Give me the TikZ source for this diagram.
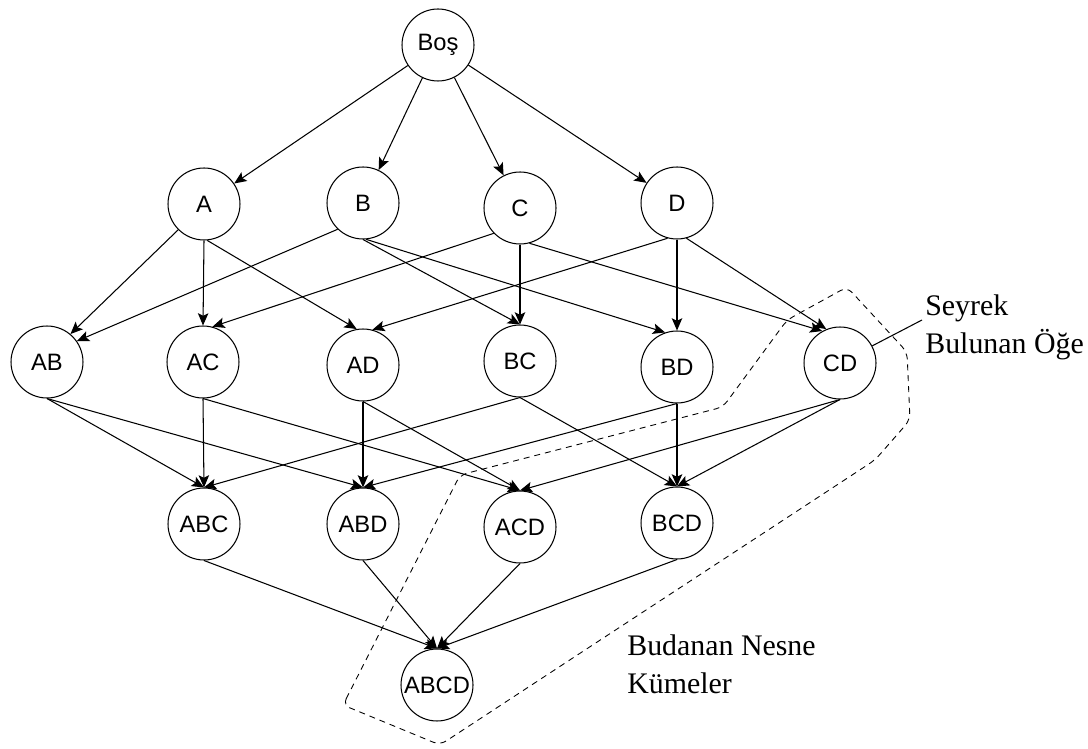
\documentclass[tikz,border=0pt]{standalone}
\usepackage{fontspec}
\setmainfont{Liberation Serif}
\setsansfont{Liberation Sans}
\usetikzlibrary{arrows.meta}

\begin{document}
\begin{tikzpicture}[x=0.02cm,y=-0.02cm,
  itemset/.style={circle, draw, line width=0.6pt, minimum size=1.44cm, inner sep=0pt,
    font=\sffamily\fontsize{13.5}{15}\selectfont},
  link/.style={-{Stealth[length=7pt,width=6pt,inset=1.5pt]}, line width=0.6pt},
  note/.style={anchor=north west, inner sep=0pt, align=left,
    font=\fontsize{17}{22}\selectfont}]
\useasboundingbox (0,0) rectangle (1088,749);

% pruned region
\draw[dashed, dash pattern=on 3.4pt off 2.8pt, line width=0.5pt, rounded corners=4pt]
  (343,705) -- (460,475) -- (723,407) -- (787,320) -- (847,287)
  -- (907,352) -- (910,420) -- (875,460) -- (440,745) -- cycle;

% lattice
\node[itemset] (Bos) at (438,45) {Boş};
\foreach \n/\x/\y in {A/204/204,B/363/203,C/520/208,D/677/203,
    AB/47/362,AC/203/362,AD/363/365,BC/520/361,BD/677/367,CD/840/363,
    ABC/204/524,ABD/363/524,ACD/520/527,BCD/677/523,ABCD/437/685}{
  \node[itemset] (\n) at (\x,\y) {\n};
}

\foreach \t in {A,B,C,D}{
  \draw[link] (Bos) -- (\t);
}
\foreach \s/\t in {A.225/AB.50, A.south/AC.north, A.275/AD.100,
    B.226/AB.35, B.south/BC.north, B.275/BD.109,
    C.224/AC.75, C.south/BC.north, C.285/CD.119,
    D.255/AD.75, D.south/BD.north, D.285/CD.112}{
  \draw[link] (\s) -- (\t);
}
\foreach \s/\t in {AB/ABC, AB/ABD, AC/ABC, AC/ACD, AD/ABD, AD/ACD,
    BC/ABC, BC/BCD, BD/ABD, BD/BCD, CD/ACD, CD/BCD,
    ABC/ABCD, ABD/ABCD, ACD/ABCD, BCD/ABCD}{
  \draw[link] (\s.south) -- (\t.north);
}

% labels
\coordinate (tip) at (922,320);
\draw[line width=0.6pt] (CD.28) -- (tip);
\node[note] (sparse) at (925,294) {Seyrek\\Bulunan Öğe};
\node[note] (pruned) at (627,634) {Budanan Nesne\\Kümeler};
\end{tikzpicture}
\end{document}
